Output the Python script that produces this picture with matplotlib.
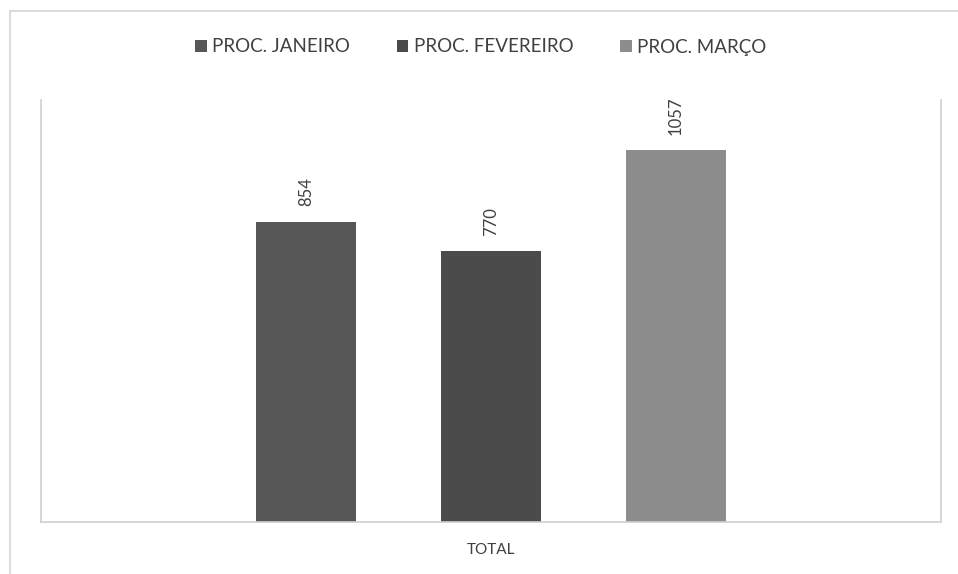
import matplotlib
matplotlib.use("Agg")
import matplotlib.pyplot as plt
from matplotlib.lines import Line2D
from matplotlib.patches import Patch

categories = ["TOTAL"]
series_names = ["PROC. JANEIRO", "PROC. FEVEREIRO", "PROC. MARÇO"]
values = [854, 770, 1057]
colors = ["#575757", "#4b4b4b", "#8d8d8d"]

plt.rcParams['font.family'] = ['Lato', 'DejaVu Sans']

fig = plt.figure(figsize=(9.58, 5.74), dpi=100)
ax = fig.add_axes([41/958, 1 - 522/574, 900/958, 422/574])

width = 0.111
step = 0.2056
for i, (name, v, c) in enumerate(zip(series_names, values, colors)):
    x = (i - 1) * step
    bars = ax.bar(x, v, width=width, color=c, label=name, zorder=2)
    ax.bar_label(bars, labels=[str(v)], rotation=90, padding=11,
                 fontsize=12, color="#404040")

ax.set_xlim(-0.5, 0.5)
ax.set_ylim(0, 1200)
ax.set_xticks([0])
ax.set_xticklabels(categories, fontsize=11, color="#404040")
ax.tick_params(axis='x', length=0, pad=15)
ax.set_yticks([])
for s in ["left", "right", "bottom"]:
    ax.spines[s].set_color("#cfcfcf")
    ax.spines[s].set_linewidth(1.2)
ax.spines["top"].set_visible(False)

handles = [Patch(facecolor=c, edgecolor='none') for c in colors]
fig.legend(handles, series_names, loc="center", bbox_to_anchor=(481/958, 1 - 47/574),
           ncol=3, frameon=False, fontsize=13.5, handlelength=0.6, handleheight=0.6,
           handletextpad=0.3, columnspacing=2.5, labelcolor="#404040")

# outer chart border (partially cropped in the reference)
fig.add_artist(Line2D([10/958, 10/958], [0, 1 - 11/574], transform=fig.transFigure,
                      color="#d6d6d6", linewidth=1.2))
fig.add_artist(Line2D([10/958, 1], [1 - 11/574, 1 - 11/574], transform=fig.transFigure,
                      color="#d6d6d6", linewidth=1.2))

fig.savefig("out.png", dpi=100)
